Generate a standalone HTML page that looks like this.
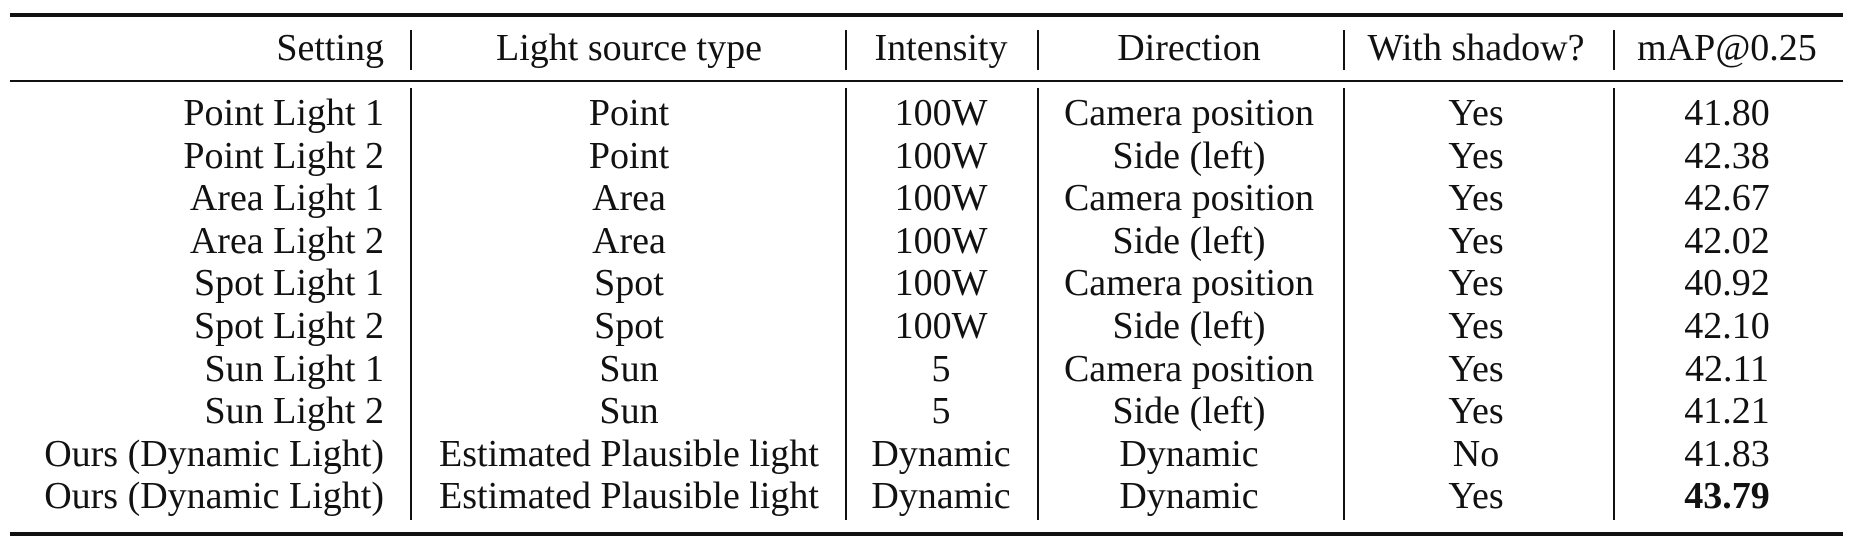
<!DOCTYPE html>
<html><head><meta charset="utf-8"><style>
html,body{margin:0;padding:0;background:#fff;}
body{width:1874px;height:542px;position:relative;overflow:hidden;font-family:"Liberation Serif",serif;font-size:38px;color:#111;}
.r{position:absolute;left:0;width:1874px;height:44px;line-height:44px;}
.c{position:absolute;top:0;white-space:nowrap;}
.s{right:1490px;text-align:right;}
.h{position:absolute;left:10px;width:1833px;background:#111;}
.v{position:absolute;width:2px;background:#111;}
</style></head><body>
<div class="h" style="top:13px;height:4px"></div>
<div class="h" style="top:80px;height:2px"></div>
<div class="h" style="top:532px;height:4px"></div>

<div class="v" style="left:410px;top:30px;height:40px"></div>
<div class="v" style="left:845px;top:30px;height:40px"></div>
<div class="v" style="left:1037px;top:30px;height:40px"></div>
<div class="v" style="left:1343px;top:30px;height:40px"></div>
<div class="v" style="left:1613px;top:30px;height:40px"></div>
<div class="v" style="left:410px;top:88px;height:432px"></div>
<div class="v" style="left:845px;top:88px;height:432px"></div>
<div class="v" style="left:1037px;top:88px;height:432px"></div>
<div class="v" style="left:1343px;top:88px;height:432px"></div>
<div class="v" style="left:1613px;top:88px;height:432px"></div>

<div id="rows"></div>
<script>
var rows=[
["Setting","Light source type","Intensity","Direction","With shadow?","mAP@0.25"],
["Point Light 1","Point","100W","Camera position","Yes","41.80"],
["Point Light 2","Point","100W","Side (left)","Yes","42.38"],
["Area Light 1","Area","100W","Camera position","Yes","42.67"],
["Area Light 2","Area","100W","Side (left)","Yes","42.02"],
["Spot Light 1","Spot","100W","Camera position","Yes","40.92"],
["Spot Light 2","Spot","100W","Side (left)","Yes","42.10"],
["Sun Light 1","Sun","5","Camera position","Yes","42.11"],
["Sun Light 2","Sun","5","Side (left)","Yes","41.21"],
["Ours (Dynamic Light)","Estimated Plausible light","Dynamic","Dynamic","No","41.83"],
["Ours (Dynamic Light)","Estimated Plausible light","Dynamic","Dynamic","Yes","<b>43.79</b>"]];
var centers=[629,941,1189,1476,1727];
var h="";
for(var i=0;i<rows.length;i++){
 var cy=i==0?48:113+42.6*(i-1);
 h+='<div class="r" style="top:'+(cy-22)+'px"><div class="c s">'+rows[i][0]+'</div>';
 for(var j=1;j<6;j++){h+='<div class="c" style="left:'+centers[j-1]+'px;transform:translateX(-50%)">'+rows[i][j]+'</div>';}
 h+='</div>';
}
document.getElementById("rows").innerHTML=h;
</script>
</body></html>
